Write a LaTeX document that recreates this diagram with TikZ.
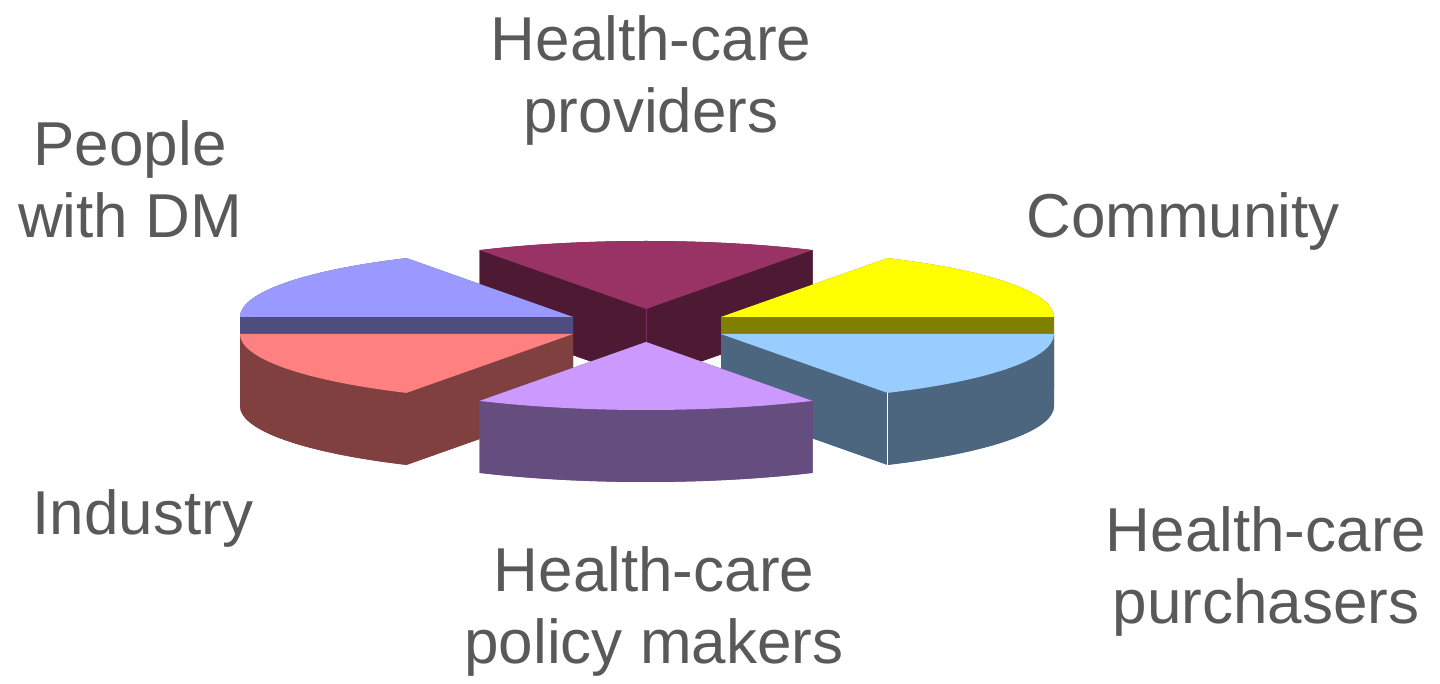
\documentclass[tikz,border=0pt]{standalone}
\usepackage{fontspec}
\setmainfont{Liberation Sans}
\usepackage{xcolor}
\usepackage{tikz}
\usetikzlibrary{positioning, calc}

\definecolor{labelgray}{HTML}{595959}
\definecolor{provtop}{HTML}{993366}
\definecolor{provside}{HTML}{4D1933}
\definecolor{pepltop}{HTML}{9999FF}
\definecolor{peplside}{HTML}{4D4D80}
\definecolor{indtop}{HTML}{FF8080}
\definecolor{indside}{HTML}{804040}
\definecolor{poltop}{HTML}{CC99FF}
\definecolor{polside}{HTML}{664D80}
\definecolor{purtop}{HTML}{99CCFF}
\definecolor{purside}{HTML}{4D6680}
\definecolor{comtop}{HTML}{FFFF00}
\definecolor{comside}{HTML}{808000}

% one slice of the pie: centre, start angle, end angle, top colour, side colour
\newcommand{\pieslice}[5]{%
  \fill[#5] ($(#1)+(0,-72)$) -- ++(#2:333 and 68) arc[start angle=#2, end angle=#3, x radius=333, y radius=68] -- cycle;
  \fill[#5] (#1) -- ++(#2:333 and 68) -- ++(0,-72) -- ($(#1)+(0,-72)$) -- cycle;
  \fill[#5] (#1) -- ++(#3:333 and 68) -- ++(0,-72) -- ($(#1)+(0,-72)$) -- cycle;
  \fill[#5] (#1) ++(#2:333 and 68) arc[start angle=#2, end angle=#3, x radius=333, y radius=68] -- ++(0,-72) arc[start angle=#3, end angle=#2, x radius=333, y radius=68] -- cycle;
  \fill[#4] (#1) -- ++(#2:333 and 68) arc[start angle=#2, end angle=#3, x radius=333, y radius=68] -- cycle;
}

\begin{document}
\begin{tikzpicture}[x=1pt, y=1pt,
    grouplabel/.style={font=\fontsize{62}{72}\selectfont, text=labelgray, align=center, inner sep=0pt, anchor=base}]
    \useasboundingbox (0,0) rectangle (1440,683);

    % Slice centres
    \coordinate (prov) at (646,374);
    \coordinate (pepl) at (573,366);
    \coordinate (ind) at (573,349);
    \coordinate (pol) at (646,341);
    \coordinate (pur) at (721,349);
    \coordinate (com) at (721,366);

    % Slices, back to front
    \pieslice{prov}{60}{120}{provtop}{provside}
    \draw[provtop!70!provside, very thin] (prov) -- ++(0,-72);
    \pieslice{pepl}{120}{180}{pepltop}{peplside}
    \pieslice{com}{0}{60}{comtop}{comside}
    \pieslice{ind}{180}{240}{indtop}{indside}
    \pieslice{pur}{300}{360}{purtop}{purside}
    \draw[white, line width=1.5pt] ($(pur)+(300:333 and 68)$) -- ++(0,-72);
    \pieslice{pol}{240}{300}{poltop}{polside}

    % Labels (base = last line)
    \node[grouplabel] (provlabel) at (651,550) {Health-care\\providers};
    \node[grouplabel] (pepllabel) at (130,445) {People\\with DM};
    \node[grouplabel] (comlabel) at (1183,445) {Community};
    \node[grouplabel] (indlabel) at (143,148) {Industry};
    \node[grouplabel] (pollabel) at (654,20) {Health-care\\policy makers};
    \node[grouplabel] (purlabel) at (1266,60) {Health-care\\purchasers};

\end{tikzpicture}
\end{document}
